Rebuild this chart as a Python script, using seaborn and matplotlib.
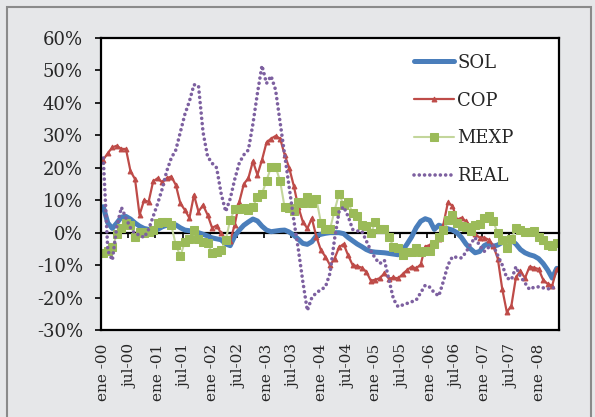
import pandas as pd
import seaborn as sns
import matplotlib.pyplot as plt
from matplotlib.patches import Rectangle

# monthly series, ene-00 .. may-08 (values in %)
sol = [8, 3, 1.3, 3, 4.8, 5, 4.2, 3, 2, 1.3,
       1, 0.8, 1, 1.8, 2.3, 2.6, 2.4, 1.5, 0.8, 0.6,
       0.4, 0, -0.5, -1, -1.6, -1.9, -2.2, -3.5, -4, -1,
       0.8, 2.3, 3.3, 4.2, 3.6, 2, 0.8, 0.3, 0.5, 0.7,
       0.8, 0.2, -0.8, -2, -3.3, -3.6, -2.8, -1, -0.5, -0.2,
       0, 0, 0, -0.3, -1.5, -2.5, -3.5, -4.3, -5.2, -5.8,
       -6, -6.1, -6.2, -6.4, -6.6, -6.8, -5.5, -3.5, -1.3, 1.5,
       3.5, 4.3, 3.8, 1, 2.3, 1.8, 1.2, 0.8, 0, -1.5,
       -3.5, -5, -6.2, -5.8, -4, -3.3, -4.2, -3.8, -3, -2.5,
       -2.3, -3.5, -5.2, -6.2, -6.8, -7.2, -8, -9.5, -11.5, -14,
       -11]

cop = [22.5, 24.5, 26.3, 26.8, 25.8, 25.8, 19, 16.5, 5.5, 10,
       9.5, 15.8, 16.8, 15.5, 16.8, 17.3, 14.7, 9, 7, 4.5,
       11.6, 6.5, 8.5, 5.5, 1.5, 2.2, -0.2, -2.3, -2.5, 2.5,
       9.5, 15, 16.8, 22, 17.8, 22.4, 27.8, 29, 29.8, 29,
       24, 20, 14.5, 8, 3.4, 1.3, 4.4, -1.3, -5.4, -7.4,
       -10, -8, -4.5, -3.5, -7, -10, -10.3, -10.8, -12, -14.8,
       -14.5, -14, -12.5, -14.2, -13.8, -14.1, -12.8, -11.5, -10.5, -11,
       -9.8, -4.3, -3.8, -3.5, -2, 2.5, 9.3, 8.3, 4, 4.6,
       3.5, 2, -0.5, -1.5, -1.5, -2.2, -4, -8, -17.5, -24.5,
       -22.5, -13.8, -11.8, -14, -10.5, -10.8, -11.2, -14.5, -15.8, -16.3,
       -11.2]

mexp = [-6.3, -5.8, -4.5, -0.5, 1.3, 3, 2.5, -1.3, 0.3, 0,
        0.2, 0.8, 3, 3.2, 3.4, 2.3, -3.8, -7.2, -2.8, -2,
        0.8, -1.8, -3, -3.2, -6.3, -5.9, -5.4, -2.3, 4, 7.2,
        7.3, 7.5, 7, 8, 11, 12, 16, 20.3, 20.3, 15.9,
        7.8, 7.5, 6.8, 9.5, 9.2, 11, 9, 10.3, 3.1, 1,
        1, 6.8, 12, 8.5, 9.3, 6, 5.2, 2.3, 2.2, -0.2,
        3.2, 1, 1.2, -1.4, -4.3, -4.6, -6.9, -5.9, -5.9, -4.8,
        -5.9, -5.5, -5.6, -3.5, -1.2, 0.8, 4, 5.3, 2.9, 2,
        1.9, 0.5, 2.3, 2.8, 4.5, 5.2, 3.5, -0.2, -2.3, -4.8,
        -1.8, 1.3, 0.7, 0.2, 0.1, 0.4, -1.2, -2.4, -3.8, -4,
        -3.3]

real = [23, -5.5, -8.5, 2, 7.8, 4.5, 1.5, -0.3, -0.7, -1.5,
        1, 5, 9, 13.5, 19, 23, 25.5, 31, 36.5, 40.5,
        45.6, 45.3, 31, 23.5, 21.4, 20, 12, 6.5, 10.5, 16.5,
        21.5, 24, 25.5, 33.5, 43, 51.5, 46, 48.3, 44, 34,
        24, 14, 4, -5, -15, -24, -20, -18.5, -17.6, -16.7,
        -12.5, -2, 6.5, 8, 5, 1, 0.5, 0.5, -2.5, -5.5,
        -8, -9.5, -8.5, -14.5, -20.5, -22.8, -22.3, -21.8, -21.3, -20.8,
        -18.5, -16.2, -16.8, -18.5, -19.5, -15, -10, -7.4, -7.6, -7.8,
        -6, -3.5, -1.5, -4, -5.8, -4.5, -4, -7, -10, -14,
        -14.5, -10.5, -13.5, -15.5, -17.5, -16.8, -16.7, -17, -17.3, -17.3,
        -16]

x_labels = ["ene -00", "jul-00", "ene -01", "jul-01", "ene -02", "jul-02",
            "ene -03", "jul-03", "ene -04", "jul-04", "ene -05", "jul-05",
            "ene -06", "jul-06", "ene -07", "jul-07", "ene -08"]
y_ticks = [-30, -20, -10, 0, 10, 20, 30, 40, 50, 60]
y_labels = [f"{v}%" for v in y_ticks]

df = pd.DataFrame({'mes': range(len(sol)), 'SOL': sol, 'COP': cop,
                   'MEXP': mexp, 'REAL': real})

sns.set_style("white")
plt.rcParams['font.family'] = ['DejaVu Serif']

fig = plt.figure(figsize=(5.95, 4.17), dpi=100, facecolor='#e6e7e9')
ax = fig.add_axes([101 / 595, 1 - 330 / 417, 458 / 595, 292 / 417])
ax.set_facecolor('white')

# zero line with the category tick marks (axis crosses at 0)
zero_ax = ax.secondary_xaxis(1 / 3)
zero_ax.set_xticks([m - 0.5 for m in range(6, 100, 6)])
zero_ax.tick_params(axis='x', labelbottom=False, length=3.5, width=1.2,
                    direction='out', color='black')
zero_ax.spines['bottom'].set_linewidth(1.6)
zero_ax.spines['bottom'].set_color('black')

sns.lineplot(data=df, x='mes', y='SOL', ax=ax, color='#4a7ebb', lw=3.6,
             label='SOL', solid_capstyle='round')
sns.lineplot(data=df, x='mes', y='COP', ax=ax, color='#be4b48', lw=1.6,
             marker='^', markersize=3.5, markerfacecolor='#be4b48',
             markeredgecolor='#be4b48', label='COP')
sns.lineplot(data=df, x='mes', y='MEXP', ax=ax, color='#c3d69b', lw=1.5,
             marker='s', markersize=5.2, markerfacecolor='#9bbb59',
             markeredgecolor='#9bbb59', label='MEXP')
sns.lineplot(data=df, x='mes', y='REAL', ax=ax, color='#7d60a0', lw=2.6,
             linestyle=(0, (0.01, 1.45)), dash_capstyle='round', label='REAL')

ax.set_xlim(-0.5, len(sol) - 0.5)
ax.set_ylim(-30, 60)
ax.set_xticks(range(0, 97, 6))
ax.set_xticklabels(x_labels, rotation=90, fontsize=11)
ax.set_yticks(y_ticks)
ax.set_yticklabels(y_labels, fontsize=13)
ax.tick_params(axis='x', length=0, pad=10)
ax.tick_params(axis='y', left=True, length=4, width=1.2, direction='out',
               pad=9, color='black')
ax.set_xlabel('')
ax.set_ylabel('')
for s in ax.spines.values():
    s.set_visible(True)
    s.set_color('black')
    s.set_linewidth(1.6)

ax.legend(loc='upper left', bbox_to_anchor=(0.683, 0.946), frameon=False,
          fontsize=13, handlelength=2.2, handletextpad=0.2, labelspacing=1.1,
          borderpad=0, borderaxespad=0)

fig.add_artist(Rectangle((6.5 / 595, -0.05), 584 / 595, 1 - 6.5 / 417 + 0.05,
                         transform=fig.transFigure, fill=False,
                         edgecolor='#8a8a8a', lw=1.5))

fig.savefig('out.png', dpi=100, facecolor=fig.get_facecolor())
